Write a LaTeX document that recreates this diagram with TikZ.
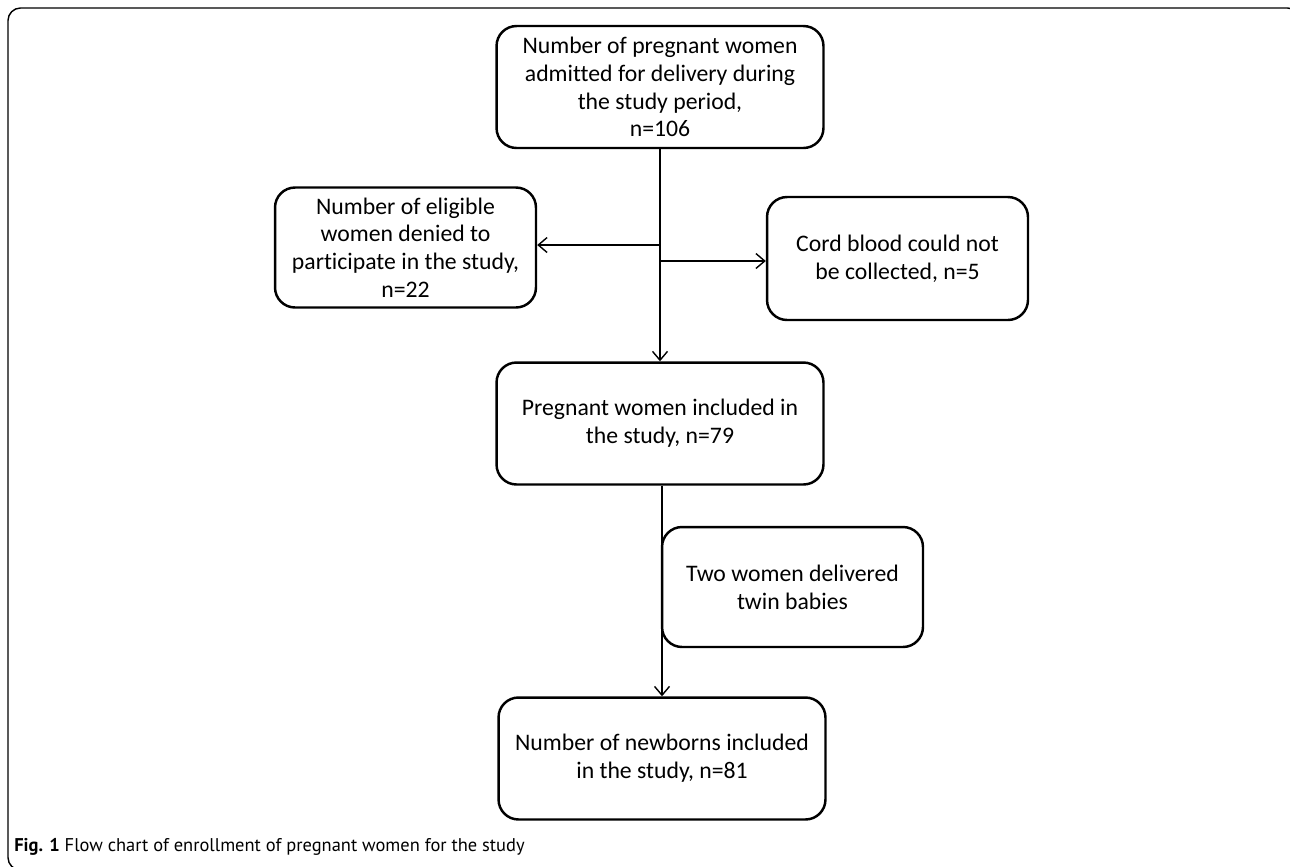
\documentclass[tikz,border=0pt]{standalone}
\usepackage{fontspec}
\setmainfont{Carlito}[Ligatures=NoCommon]
\newfontfamily\capfont{PT Sans}
\usetikzlibrary{arrows.meta}
\begin{document}
\begin{tikzpicture}
[
    x=0.02cm, y=-0.02cm,
    box/.style={draw, line width=1.4pt, rounded corners=0.4cm, align=center,
        font=\fontsize{13.5}{15.8}\selectfont, inner sep=0pt},
    wide/.style={box, minimum width=6.54cm, minimum height=2.44cm},
    narrow/.style={box, minimum width=5.22cm, minimum height=2.4cm},
    link/.style={line width=0.8pt},
    arrow/.style={link, -{Straight Barb[length=5pt, width=8.5pt, line width=0.8pt]}},
]
\useasboundingbox (0,0) rectangle (1290,866);
\draw [line width=0.8pt, rounded corners=0.25cm] (8,8) rectangle (1300,870);
\node [wide] (admitted) at (660,87)
    {Number of pregnant women\\admitted for delivery during\\the study period,\\n=106};
\node [narrow] (denied) at (405.5,247.5)
    {Number of eligible\\women denied to\\participate in the study,\\n=22};
\node [narrow, minimum height=2.46cm] (cord) at (897.5,258.5)
    {Cord blood could not\\be collected, n=5};
\node [wide] (included) at (660,423.5)
    {Pregnant women included in\\the study, n=79};
\node [narrow] (twins) at (792.5,587)
    {Two women delivered\\twin babies};
\node [wide] (newborns) at (662,758.5)
    {Number of newborns included\\in the study, n=81};
\coordinate (splitL) at (admitted.south |- 0,245);
\coordinate (splitR) at (admitted.south |- 0,261);
\draw [arrow] (admitted.south) -- (included.north);
\draw [arrow] (splitL) -- (denied.east |- splitL);
\draw [arrow] (splitR) -- (cord.west |- splitR);
\draw [arrow] (included.south -| newborns.north) -- (newborns.north);
\node [anchor=base west, inner sep=0pt, font=\capfont\fontsize{10.5}{12}\selectfont] (caption) at (14,851)
    {\textbf{Fig. 1} Flow chart of enrollment of pregnant women for the study};
\end{tikzpicture}
\end{document}
